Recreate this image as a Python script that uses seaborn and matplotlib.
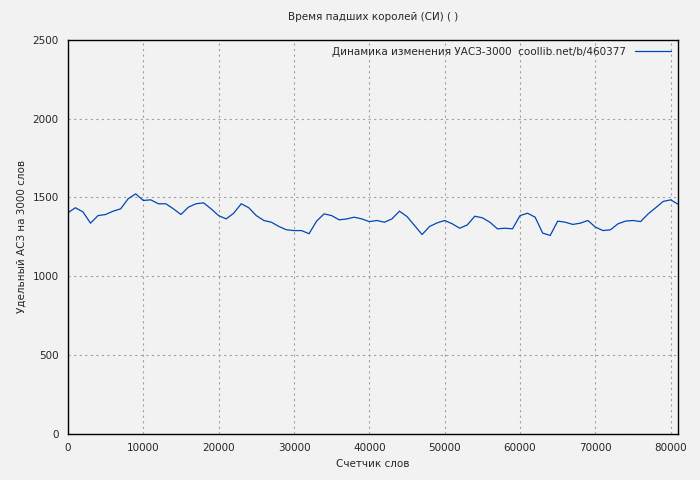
import numpy as np
import pandas as pd
import matplotlib
matplotlib.use("Agg")
import matplotlib.pyplot as plt
import seaborn as sns

words = np.arange(0, 82000, 1000)
uasz = [1403, 1435, 1408, 1337, 1385, 1392, 1413, 1428, 1492, 1523,
        1481, 1485, 1460, 1460, 1428, 1392, 1439, 1460, 1466, 1428,
        1385, 1364, 1400, 1460, 1435, 1385, 1354, 1343, 1316, 1295,
        1290, 1290, 1270, 1350, 1396, 1385, 1358, 1364, 1375, 1364,
        1347, 1354, 1343, 1364, 1413, 1379, 1322, 1265, 1316, 1339,
        1354, 1333, 1305, 1326, 1381, 1371, 1343, 1301, 1305, 1301,
        1385, 1400, 1375, 1274, 1259, 1350, 1343, 1329, 1337, 1354,
        1312, 1290, 1295, 1333, 1350, 1354, 1347, 1396, 1435, 1475,
        1485, 1456]
df = pd.DataFrame({"words": words, "uasz": uasz})

sns.set_style("white")
plt.rcParams["font.family"] = ["DejaVu Sans"]
plt.rcParams["font.size"] = 7.5

fig, ax = plt.subplots(figsize=(7, 4.8), dpi=100)
fig.patch.set_facecolor("#f2f2f2")
ax.set_facecolor("#f2f2f2")
fig.subplots_adjust(left=0.097, right=0.969, top=0.917, bottom=0.096)

sns.lineplot(data=df, x="words", y="uasz", ax=ax, color="#0047b3", linewidth=0.9,
             label="Динамика изменения УАСЗ-3000  coollib.net/b/460377")

ax.set_xlim(0, 81000)
ax.set_ylim(0, 2500)
ax.set_xticks(range(0, 81000, 10000))
ax.set_yticks(range(0, 2501, 500))
ax.grid(True, color="#a0a0a0", linestyle=(0, (2, 3)), linewidth=0.8)
ax.tick_params(direction="inout", length=6, labelsize=7.5)
for s in ax.spines.values():
    s.set_color("black")
    s.set_linewidth(1)

ax.set_title("Время падших королей (СИ) ( )", fontsize=7.5, pad=14)
ax.set_xlabel("Счетчик слов", fontsize=7.5)
ax.set_ylabel("Удельный АСЗ на 3000 слов", fontsize=7.5)
leg = ax.legend(loc="upper right", frameon=False, markerfirst=False,
                handlelength=3.5, fontsize=7.5, borderaxespad=0.3)

fig.savefig("out.png", dpi=100, facecolor=fig.get_facecolor())
